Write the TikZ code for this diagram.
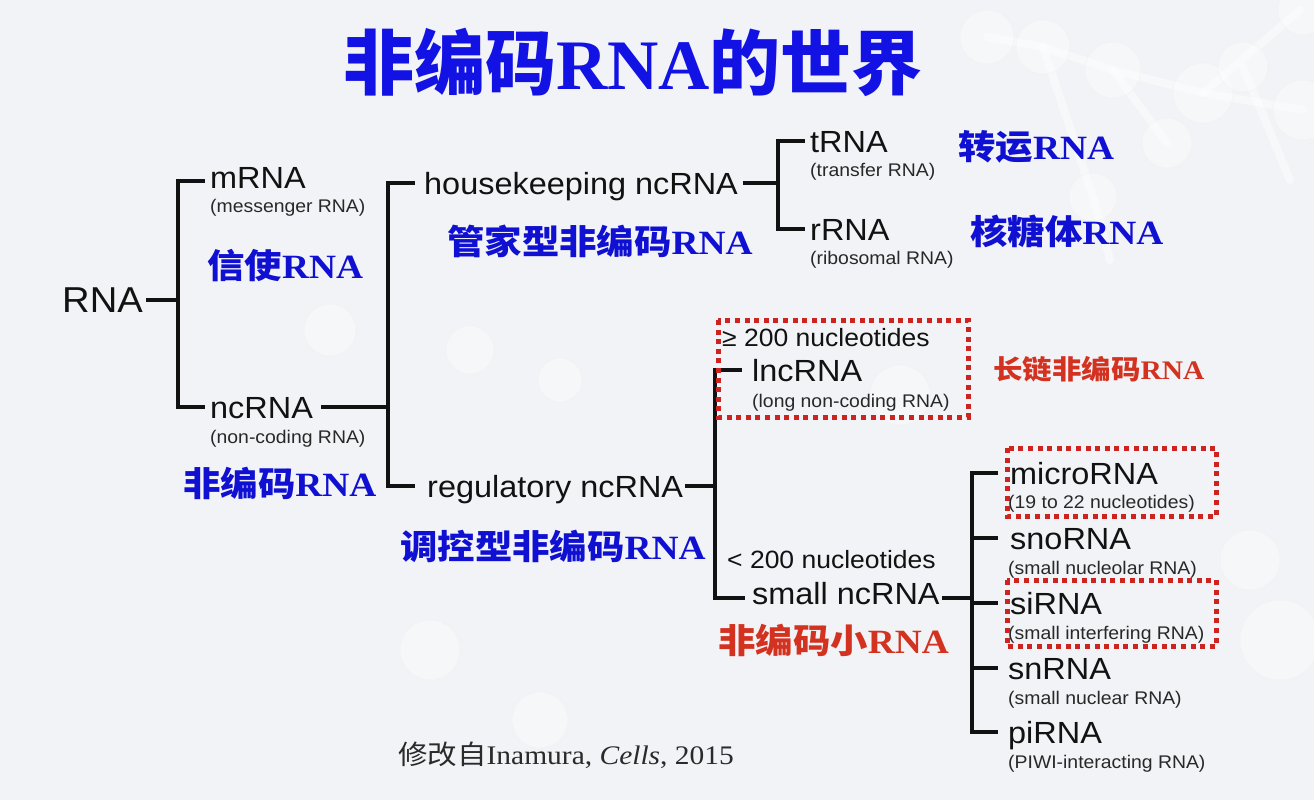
\documentclass[tikz,border=0pt]{standalone}
\usepackage{fontspec}
\newfontfamily\arl{Liberation Sans}[FakeStretch=1.06]
\newfontfamily\cjk{Noto Sans CJK SC}
\newfontfamily\cjkw{Noto Sans CJK SC}[FakeStretch=1.1]
\newfontfamily\tms{Liberation Serif}
\newfontfamily\tmsw{Liberation Serif}[FakeStretch=1.1]
\definecolor{titleblue}{RGB}{18,18,228}
\definecolor{labblue}{RGB}{16,16,210}
\definecolor{labred}{RGB}{212,50,32}
\definecolor{boxred}{RGB}{205,36,32}
\definecolor{bgcol}{RGB}{242,243,246}
\definecolor{ink}{RGB}{18,18,18}
\definecolor{subink}{RGB}{40,40,40}
\newcommand\zhb[1]{{\cjkw\bfseries #1}}
\newcommand\rnab[1]{{\tmsw\bfseries #1}}
\begin{document}
\begin{tikzpicture}[x=1pt,y=-1pt,
  branch/.style={line width=4pt, draw=ink},
  main/.style={font=\arl\fontsize{30.6}{34}\selectfont, text=ink, inner sep=0pt, anchor=base west, text depth=0pt},
  rootlbl/.style={main, font=\arl\fontsize{36}{40}\selectfont},
  sublbl/.style={font=\arl\fontsize{18.3}{20}\selectfont, text=subink, inner sep=0pt, anchor=base west},
  ntlbl/.style={font=\arl\fontsize{25}{28}\selectfont, text=ink, inner sep=0pt, anchor=base west},
  cn/.style={font=\fontsize{34}{38}\selectfont, text=labblue, inner sep=0pt, anchor=west},
  cnred/.style={cn, text=labred},
  dotbox/.style={draw=boxred, line width=5pt, dash pattern=on 5pt off 4.6pt},
  ball/.style={fill=white, fill opacity=0.35, draw=black!5, draw opacity=0.6, line width=0.8pt},
  stick/.style={draw=white, line width=8pt, opacity=0.45, line cap=round}]

% page and faint molecular backdrop
\fill[bgcol] (0,0) rectangle (1314,800);
\path[use as bounding box] (0,0) rectangle (1314,800);
\draw[stick] (987,37) -- (1043,47) -- (1113,70) -- (1203,93) -- (1303,110);
\draw[stick] (1113,70) -- (1167,143);
\draw[stick] (1043,47) -- (1093,197) -- (1110,260);
\draw[stick] (1203,93) -- (1300,10);
\draw[stick] (1243,67) -- (1290,180);
\foreach \cx/\cy/\r in {987/37/27, 1043/47/27, 1113/70/28, 1203/93/30, 1303/110/30,
  1167/143/25, 1303/10/25, 1093/197/24, 1243/67/25, 1280/640/40, 1250/560/30,
  330/330/26, 470/350/24, 560/380/22, 900/395/30, 430/650/30, 540/720/28}
  \filldraw[ball] (\cx,\cy) circle (\r);

% title
\node[font=\fontsize{71}{80}\selectfont, text=titleblue, inner sep=0pt] (title) at (633,62)
  {{\cjk\bfseries 非编码}{\tms\bfseries RNA}{\cjk\bfseries 的世界}};

% tree labels
\node[rootlbl] (rna) at (62,312) {RNA};
\node[main] (mrna) at (210,188) {mRNA};
\node[sublbl] (mrnas) at (210,212) {(messenger RNA)};
\node[main] (ncrna) at (210,418) {ncRNA};
\node[sublbl] (ncrnas) at (210,443) {(non-coding RNA)};
\node[main] (hk) at (424,194) {housekeeping ncRNA};
\node[main] (reg) at (427,497) {regulatory ncRNA};
\node[main] (trna) at (810,152) {tRNA};
\node[sublbl] (trnas) at (810,176) {(transfer RNA)};
\node[main] (rrna) at (810,240) {rRNA};
\node[sublbl] (rrnas) at (810,264) {(ribosomal RNA)};
\node[ntlbl] (long) at (722,346) {≥ 200 nucleotides};
\node[main] (lnc) at (752,381) {lncRNA};
\node[sublbl] (lncs) at (752,407) {(long non-coding RNA)};
\node[ntlbl] (short) at (727,568) {< 200 nucleotides};
\node[main] (small) at (752,604) {small ncRNA};
\node[main] (mir) at (1010,484) {microRNA};
\node[sublbl] (mirs) at (1008,508) {(19 to 22 nucleotides)};
\node[main] (sno) at (1010,549) {snoRNA};
\node[sublbl] (snos) at (1008,574) {(small nucleolar RNA)};
\node[main] (si) at (1010,614) {siRNA};
\node[sublbl] (sis) at (1008,639) {(small interfering RNA)};
\node[main] (sn) at (1008,679) {snRNA};
\node[sublbl] (sns) at (1008,704) {(small nuclear RNA)};
\node[main] (pi) at (1008,743) {piRNA};
\node[sublbl] (pis) at (1008,768) {(PIWI-interacting RNA)};

% Chinese names
\node[cn] (zm) at (207,266) {\zhb{信使}\rnab{RNA}};
\node[cn] (znc) at (183,483) {\zhb{非编码}\rnab{RNA}};
\node[cn] (zhk) at (447,241) {\zhb{管家型非编码}\rnab{RNA}};
\node[cn] (zreg) at (400,546) {\zhb{调控型非编码}\rnab{RNA}};
\node[cn] (zt) at (958,147) {\zhb{转运}\rnab{RNA}};
\node[cn] (zr) at (970,231) {\zhb{核糖体}\rnab{RNA}};
\node[cnred, font=\fontsize{26.8}{30}\selectfont] (zlnc) at (993,369) {\zhb{长链非编码}\rnab{RNA}};
\node[cnred] (zsm) at (718,640) {\zhb{非编码小}\rnab{RNA}};

% source line
\node[font=\fontsize{26.8}{30}\selectfont, text=ink!90, inner sep=0pt, anchor=west] (src) at (398,755)
  {{\cjkw 修改自}{\tmsw Inamura, {\itshape Cells}, 2015}};

% split positions
\coordinate (xa) at (178,0);
\coordinate (xb) at (388,0);
\coordinate (xc) at (778,0);
\coordinate (xd) at (715,0);
\coordinate (xe) at (972,0);
\coordinate (smw) at ([xshift=-7,yshift=-5]small.west);
\coordinate (sme) at ([xshift=2,yshift=-5]small.east);

% branches
\draw[branch] ([xshift=3]rna.east) -- (rna.east -| xa);
\draw[branch] ([xshift=-5,yshift=-4]mrna.west) -| (ncrna.west -| xa) -- ([xshift=-5]ncrna.west);
\draw[branch] ([xshift=8]ncrna.east) -- (ncrna.east -| xb);
\draw[branch] ([xshift=-9]hk.west) -| (reg.west -| xb) -- ([xshift=-12]reg.west);
\draw[branch] ([xshift=5]hk.east) -- (hk.east -| xc);
\draw[branch] ([xshift=-5]trna.west) -| (rrna.west -| xc) -- ([xshift=-5]rrna.west);
\draw[branch] ([xshift=2]reg.east) -- (reg.east -| xd);
\draw[branch] ([xshift=-10]lnc.west) -| (smw -| xd) -- (smw);
\draw[branch] (sme) -- (sme -| xe);
\draw[branch] ([xshift=-12]mir.west) -| (pi.west -| xe) -- ([xshift=-10]pi.west);
\draw[branch] ([xshift=-12]sno.west) -- (sno.west -| xe);
\draw[branch] ([xshift=-12]si.west) -- (si.west -| xe);
\draw[branch] ([xshift=-10]sn.west) -- (sn.west -| xe);

% highlighted groups
\draw[dotbox] (718,320) rectangle (968,417);
\draw[dotbox] (1007,448) rectangle (1216,516);
\draw[dotbox] (1007,580) rectangle (1216,646);
\end{tikzpicture}
\end{document}
